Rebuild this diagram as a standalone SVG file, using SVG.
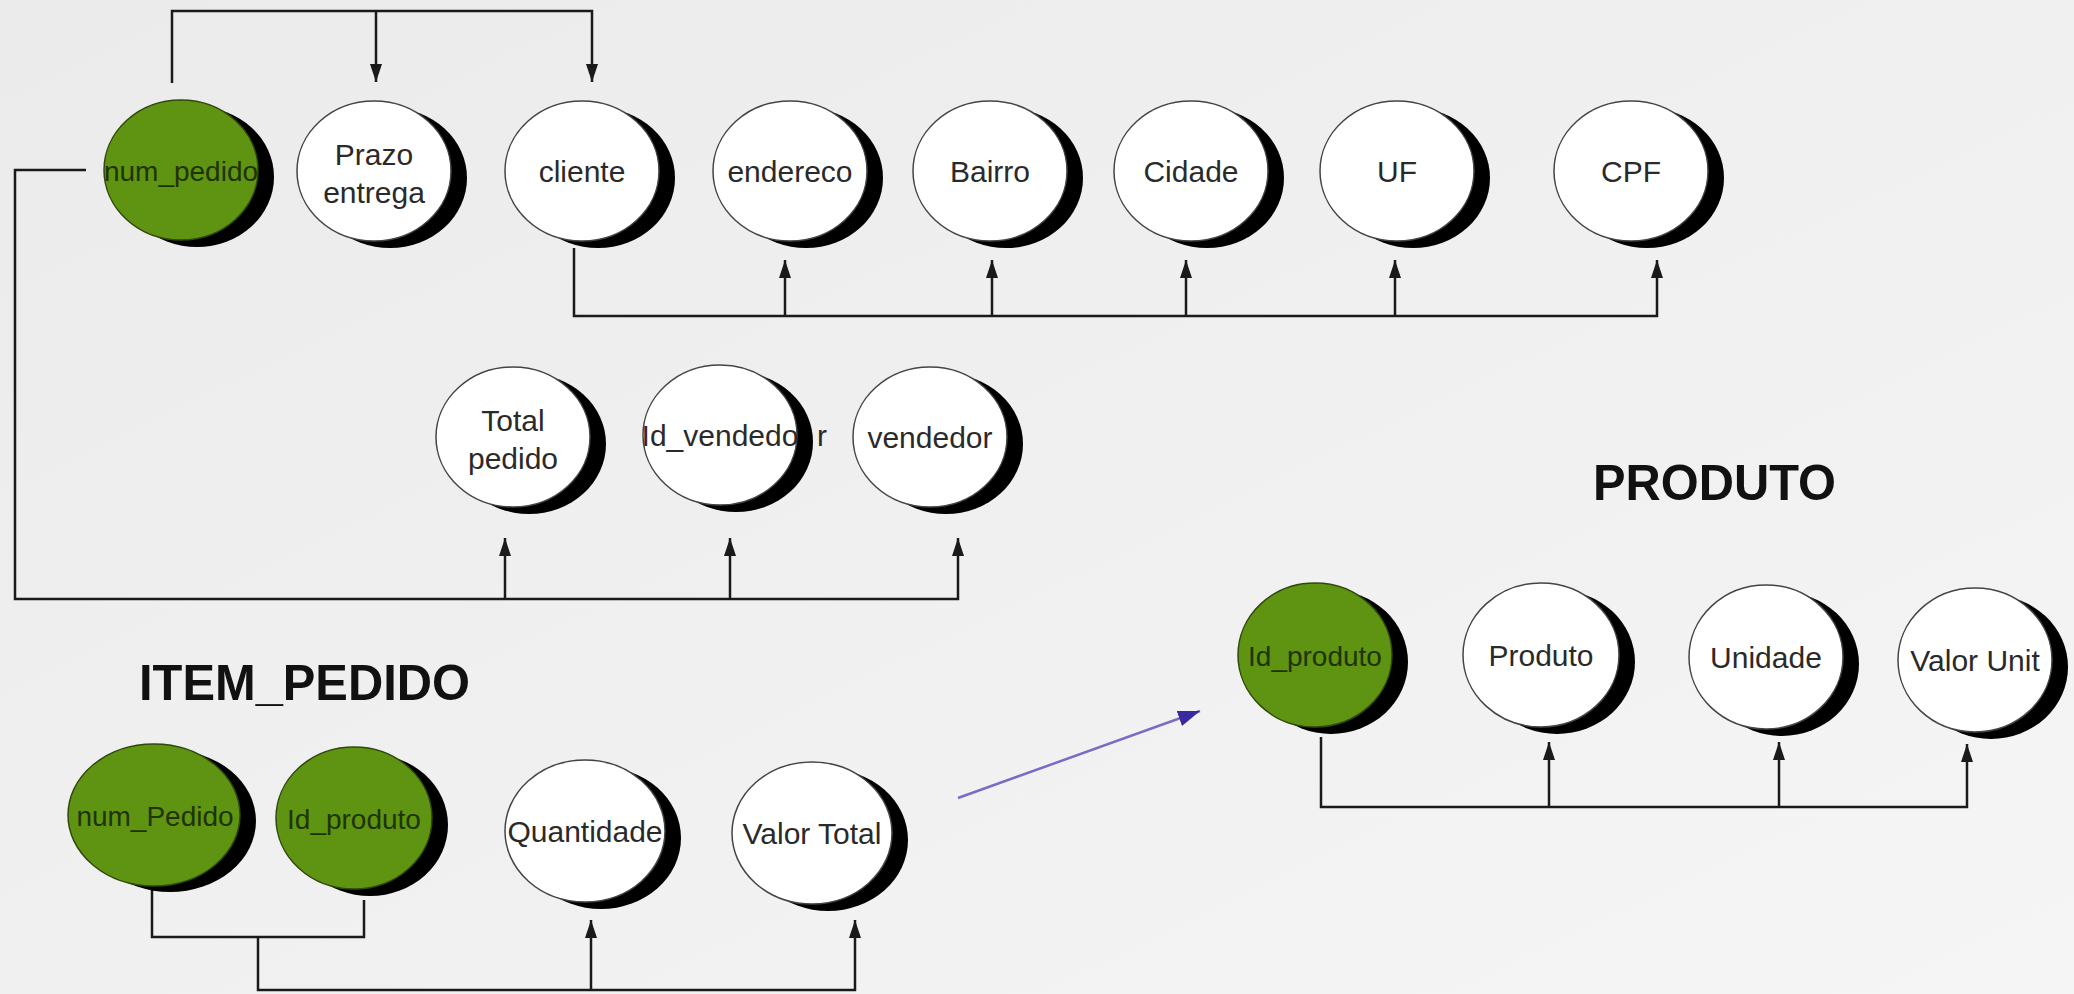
<svg xmlns="http://www.w3.org/2000/svg" width="2074" height="994" viewBox="0 0 2074 994">
<defs>
<linearGradient id="bg" x1="0" y1="0" x2="1" y2="1">
<stop offset="0" stop-color="#ebebeb"/>
<stop offset="1" stop-color="#f5f5f5"/>
</linearGradient>
<marker id="ah" markerUnits="userSpaceOnUse" markerWidth="20" markerHeight="14" refX="18" refY="6" orient="auto">
<path d="M0,0 L18,6 L0,12 z" fill="#1a1a1a"/>
</marker>
<marker id="ahb" markerUnits="userSpaceOnUse" markerWidth="24" markerHeight="18" refX="22" refY="8" orient="auto">
<path d="M0,0 L22,8 L0,16 z" fill="#3a2aa0"/>
</marker>
<style>
.sh{fill:#000}
.w{fill:#fff;stroke:#444;stroke-width:1.5}
.g{fill:#5f9312;stroke:#2f4a0a;stroke-width:1.5}
.t{font-family:"Liberation Sans",Arial,sans-serif;font-size:30px;fill:#2a2a2a;text-anchor:middle}
.tg{font-family:"Liberation Sans",Arial,sans-serif;font-size:28px;fill:#1e3300;text-anchor:middle}
.title{font-family:"Liberation Sans",Arial,sans-serif;font-size:50px;font-weight:bold;fill:#111}
.c{fill:none;stroke:#1a1a1a;stroke-width:2.5}
.a{marker-end:url(#ah)}
</style>
</defs>
<rect width="2074" height="994" fill="url(#bg)"/>

<g id="connectors">
<path class="c a" d="M172,83 V11 H592 V82"/>
<path class="c a" d="M376,11 V82"/>
<path class="c a" d="M86,170 H15 V599 H958 V538"/>
<path class="c a" d="M505,599 V538"/>
<path class="c a" d="M730,599 V538"/>
<path class="c a" d="M574,248 V316 H1657 V260"/>
<path class="c a" d="M785,316 V260"/>
<path class="c a" d="M992,316 V260"/>
<path class="c a" d="M1186,316 V260"/>
<path class="c a" d="M1395,316 V260"/>
<path class="c" d="M152,886 V937 H364 V900"/>
<path class="c a" d="M258,937 V990 H855 V920"/>
<path class="c a" d="M591,990 V920"/>
<path class="c a" d="M1321,737 V807 H1967 V744"/>
<path class="c a" d="M1549,807 V742"/>
<path class="c a" d="M1779,807 V742"/>
<path d="M958,798 L1200,711" fill="none" stroke="#7a6cc4" stroke-width="2.5" marker-end="url(#ahb)"/>
</g>

<g id="n_num_pedido"><ellipse class="sh" cx="197" cy="177" rx="77" ry="70"/><ellipse class="g" cx="181" cy="170" rx="77" ry="70"/><text class="tg" x="181" y="181">num_pedido</text></g>
<g id="n_prazo"><ellipse class="sh" cx="390" cy="178" rx="77" ry="70"/><ellipse class="w" cx="374" cy="171" rx="77" ry="70"/><text class="t" x="374" y="165">Prazo</text><text class="t" x="374" y="203">entrega</text></g>
<g id="n_cliente"><ellipse class="sh" cx="598" cy="178" rx="77" ry="70"/><ellipse class="w" cx="582" cy="171" rx="77" ry="70"/><text class="t" x="582" y="182">cliente</text></g>
<g id="n_endereco"><ellipse class="sh" cx="806" cy="178" rx="77" ry="70"/><ellipse class="w" cx="790" cy="171" rx="77" ry="70"/><text class="t" x="790" y="182">endereco</text></g>
<g id="n_bairro"><ellipse class="sh" cx="1006" cy="178" rx="77" ry="70"/><ellipse class="w" cx="990" cy="171" rx="77" ry="70"/><text class="t" x="990" y="182">Bairro</text></g>
<g id="n_cidade"><ellipse class="sh" cx="1207" cy="178" rx="77" ry="70"/><ellipse class="w" cx="1191" cy="171" rx="77" ry="70"/><text class="t" x="1191" y="182">Cidade</text></g>
<g id="n_uf"><ellipse class="sh" cx="1413" cy="178" rx="77" ry="70"/><ellipse class="w" cx="1397" cy="171" rx="77" ry="70"/><text class="t" x="1397" y="182">UF</text></g>
<g id="n_cpf"><ellipse class="sh" cx="1647" cy="178" rx="77" ry="70"/><ellipse class="w" cx="1631" cy="171" rx="77" ry="70"/><text class="t" x="1631" y="182">CPF</text></g>

<g id="n_total_pedido"><ellipse class="sh" cx="529" cy="444" rx="77" ry="70"/><ellipse class="w" cx="513" cy="437" rx="77" ry="70"/><text class="t" x="513" y="431">Total</text><text class="t" x="513" y="469">pedido</text></g>
<g id="n_id_vendedor"><ellipse class="sh" cx="736" cy="442" rx="77" ry="70"/><ellipse class="w" cx="720" cy="435" rx="77" ry="70"/><text class="t" x="720" y="446">Id_vendedo</text><text class="t" x="822" y="446" fill="#888" font-size="24">r</text></g>
<g id="n_vendedor"><ellipse class="sh" cx="946" cy="444" rx="77" ry="70"/><ellipse class="w" cx="930" cy="437" rx="77" ry="70"/><text class="t" x="930" y="448">vendedor</text></g>

<g id="t_item_pedido"><text class="title" x="139" y="700" textLength="331" lengthAdjust="spacingAndGlyphs">ITEM_PEDIDO</text></g>
<g id="n_num_Pedido"><ellipse class="sh" cx="170" cy="821" rx="86" ry="71"/><ellipse class="g" cx="154" cy="815" rx="86" ry="71"/><text class="tg" x="155" y="826">num_Pedido</text></g>
<g id="n_id_produto_item"><ellipse class="sh" cx="370" cy="825" rx="78" ry="71"/><ellipse class="g" cx="354" cy="818" rx="78" ry="71"/><text class="tg" x="354" y="829">Id_produto</text></g>
<g id="n_quantidade"><ellipse class="sh" cx="601" cy="838" rx="80" ry="71"/><ellipse class="w" cx="585" cy="831" rx="80" ry="71"/><text class="t" x="585" y="842">Quantidade</text></g>
<g id="n_valor_total"><ellipse class="sh" cx="828" cy="840" rx="80" ry="71"/><ellipse class="w" cx="812" cy="833" rx="80" ry="71"/><text class="t" x="812" y="844">Valor Total</text></g>

<g id="t_produto"><text class="title" x="1593" y="500" textLength="243" lengthAdjust="spacingAndGlyphs">PRODUTO</text></g>
<g id="n_id_produto"><ellipse class="sh" cx="1331" cy="662" rx="77" ry="72"/><ellipse class="g" cx="1315" cy="655" rx="77" ry="72"/><text class="tg" x="1315" y="666">Id_produto</text></g>
<g id="n_produto"><ellipse class="sh" cx="1557" cy="662" rx="78" ry="72"/><ellipse class="w" cx="1541" cy="655" rx="78" ry="72"/><text class="t" x="1541" y="666">Produto</text></g>
<g id="n_unidade"><ellipse class="sh" cx="1782" cy="664" rx="77" ry="72"/><ellipse class="w" cx="1766" cy="657" rx="77" ry="72"/><text class="t" x="1766" y="668">Unidade</text></g>
<g id="n_valor_unit"><ellipse class="sh" cx="1991" cy="667" rx="77" ry="72"/><ellipse class="w" cx="1975" cy="660" rx="77" ry="72"/><text class="t" x="1975" y="671">Valor Unit</text></g>
</svg>
